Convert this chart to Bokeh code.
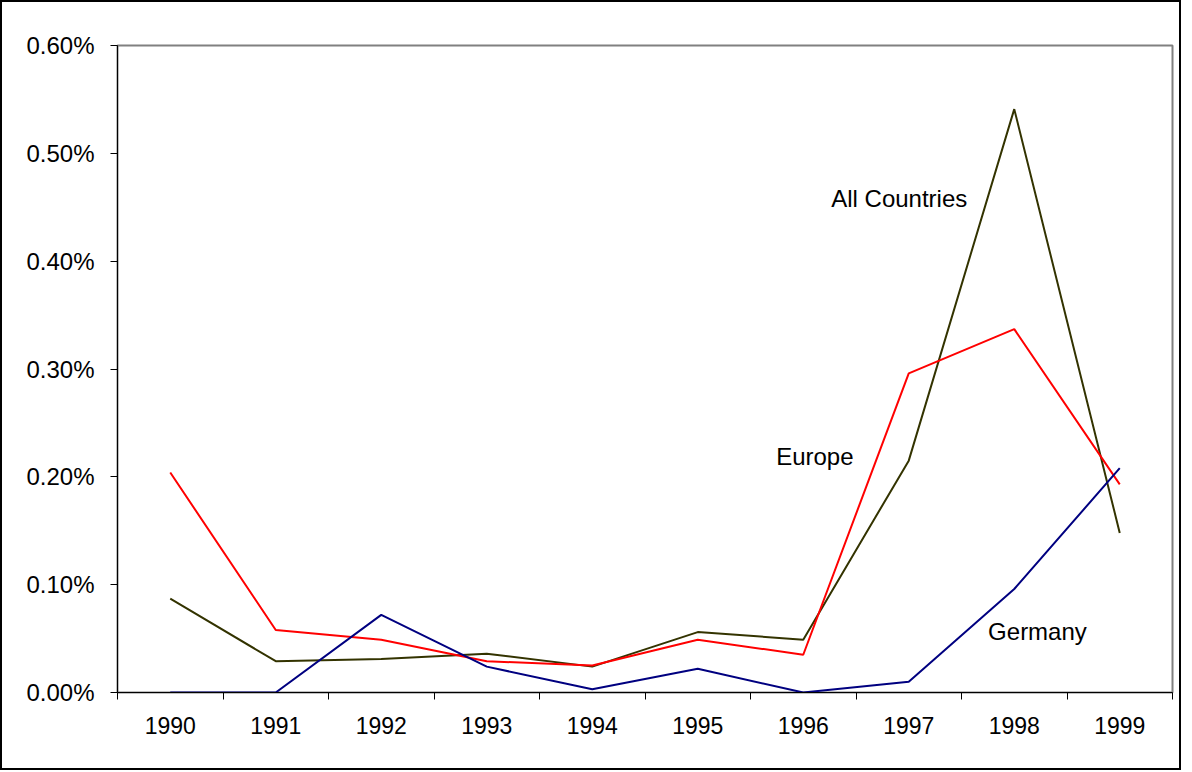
from bokeh.plotting import figure
from bokeh.models import Range1d, FixedTicker, PrintfTickFormatter, ColumnDataSource
from bokeh.core.properties import value
from bokeh.embed import file_html
from bokeh.resources import INLINE

years = ["1990", "1991", "1992", "1993", "1994", "1995", "1996", "1997", "1998", "1999"]
all_countries = [0.087, 0.029, 0.031, 0.036, 0.024, 0.056, 0.049, 0.215, 0.541, 0.148]
europe = [0.204, 0.058, 0.049, 0.029, 0.025, 0.049, 0.035, 0.296, 0.337, 0.193]
germany = [0.0, 0.0, 0.072, 0.024, 0.003, 0.022, 0.0, 0.010, 0.096, 0.208]
y_ticks = [0.0, 0.1, 0.2, 0.3, 0.4, 0.5, 0.6]

label_names = ["All Countries", "Europe", "Germany"]
label_x = [7.41, 6.61, 8.72]
label_y = [0.458, 0.219, 0.057]

FONT = "Liberation Sans"

xs = [i + 0.5 for i in range(len(years))]

p = figure(width=1181, height=770, output_backend="svg", toolbar_location=None,
           x_range=Range1d(0, len(years)), y_range=Range1d(0, 0.6),
           min_border_left=115, min_border_top=43, min_border_right=11, min_border_bottom=80)
p.styles = {"border": "2px solid black"}
p.background_fill_color = "white"
p.border_fill_color = "white"
p.outline_line_color = "#808080"
p.outline_line_width = 2
p.grid.visible = False

# x axis
xa = p.xaxis[0]
xa.ticker = FixedTicker(ticks=xs, minor_ticks=list(range(len(years) + 1)))
xa.major_label_overrides = {x: y for x, y in zip(xs, years)}
xa.major_tick_line_color = None
xa.minor_tick_line_color = "black"
xa.minor_tick_in = 0
xa.minor_tick_out = 7
xa.axis_line_color = "black"
xa.major_label_text_font = FONT
xa.major_label_text_font_size = "23px"
xa.major_label_text_color = "black"
xa.major_label_standoff = 17

# y axis
ya = p.yaxis[0]
ya.ticker = FixedTicker(ticks=y_ticks, minor_ticks=[])
ya.formatter = PrintfTickFormatter(format="%.2f%%")
ya.major_tick_in = 0
ya.major_tick_out = 7
ya.major_tick_line_color = "black"
ya.axis_line_color = "black"
ya.major_label_text_font = FONT
ya.major_label_text_font_size = "24px"
ya.major_label_text_color = "black"
ya.major_label_standoff = 16

p.line(xs, all_countries, line_color="#333300", line_width=2)
p.line(xs, europe, line_color="#FF0000", line_width=2)
p.line(xs, germany, line_color="#000080", line_width=2)

src = ColumnDataSource(dict(x=label_x, y=label_y, t=label_names))
p.text(x="x", y="y", text="t", source=src, text_font=value(FONT), text_font_size="24px",
       text_color="black", text_align="center", text_baseline="middle")

open("out.html", "w").write(file_html(p, INLINE))
